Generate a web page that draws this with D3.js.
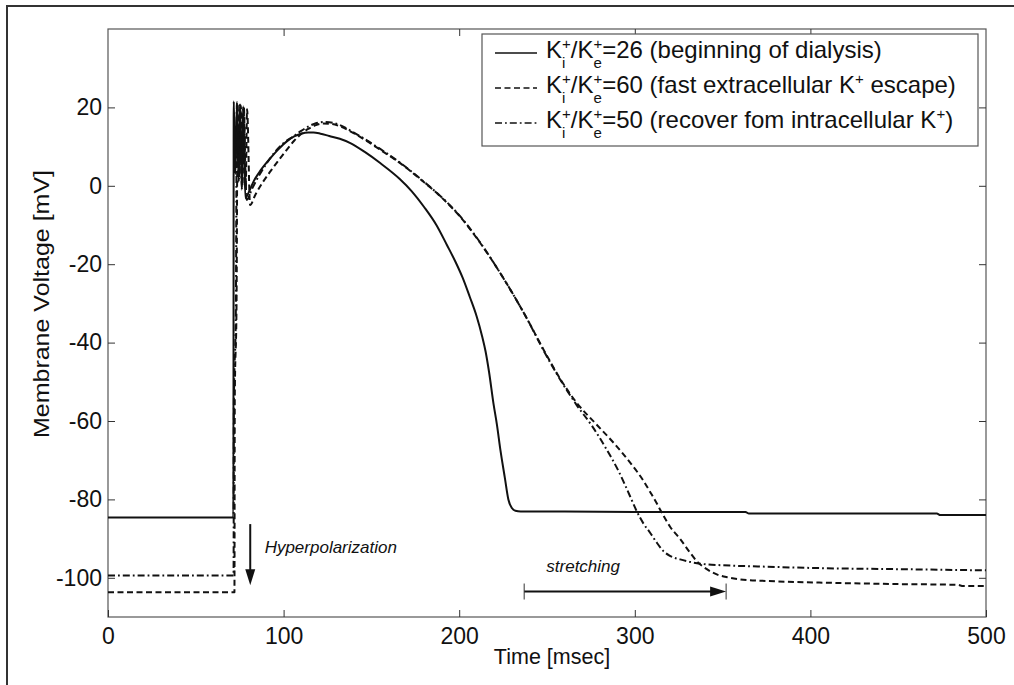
<!DOCTYPE html>
<html><head><meta charset="utf-8">
<script src="https://cdn.jsdelivr.net/npm/d3@7"></script>
<style>body{margin:0;background:#fff}text{font-family:"Liberation Sans",Arial,sans-serif;fill:#111;white-space:pre}</style>
</head><body><svg id="c" width="1014" height="685"></svg>
<script>
// ---- data ----
const xTicks = [0, 100, 200, 300, 400, 500];
const yTicks = [-100, -80, -60, -40, -20, 0, 20];
const xDomain = [0, 500];
const yDomain = [-110, 40];

// K+i/K+e = 26 (solid)
const t26 = [0, 71.4, 71.6, 72.6, 73.4, 74.4, 75.2, 76.2, 77.0, 78.2, 80, 83, 87, 92, 97, 102, 106, 110, 114, 117, 121, 126, 132, 138, 146, 155, 166, 173, 180, 187, 193, 198, 202, 206, 210, 213, 215, 217, 219.5, 221.5, 223.5, 226, 228, 230, 232, 235, 240, 260, 300, 340, 363, 365, 420, 472, 474, 500];
const v26 = [-84.6, -84.6, 21.5, 3, 21.2, 1, 20.8, -1, 20.3, -3.1, -1.8, 1.2, 4.0, 6.8, 9.3, 11.4, 12.6, 13.3, 13.6, 13.6, 13.3, 12.7, 12.0, 10.9, 8.7, 5.8, 1.8, -1.4, -5.4, -10.0, -15.1, -19.5, -23.5, -28.3, -33.4, -38.3, -42.2, -47.5, -55.5, -61, -67.5, -74.5, -80, -82.2, -82.9, -83.1, -83.1, -83.1, -83.2, -83.2, -83.2, -83.6, -83.6, -83.6, -84.0, -84.0];

// K+i/K+e = 60 (dashed)
const t60 = [0, 72.0, 72.2, 73.2, 73.8, 74.8, 75.6, 76.6, 77.4, 78.4, 79.2, 80.9, 84, 88, 93, 98, 102, 106, 110, 114, 118, 122.5, 127, 132, 138, 146, 155, 166, 180, 190, 200, 212, 223, 237, 250, 258, 267, 278, 288, 298, 305, 309, 312, 315.4, 320, 326, 331, 335.4, 341, 347, 353, 360, 375, 413, 450, 484, 487, 500];
const v60 = [-103.7, -103.7, -54, -30, 21, 2, 20.5, 0, 20, -1, 19.5, -4.9, -2.2, 0.8, 4.0, 7.0, 9.3, 11.5, 13.2, 14.5, 15.4, 15.9, 15.8, 15.2, 13.9, 11.8, 9.2, 5.9, 0.9, -3.0, -7.6, -14.6, -22.0, -32.6, -43.4, -49.6, -55.4, -60.8, -65.6, -71, -75.3, -78.3, -80.6, -83.4, -86.9, -90.2, -93.3, -95.8, -97.8, -99.2, -99.9, -100.4, -100.8, -101.3, -101.6, -101.8, -102.1, -102.1];

// K+i/K+e = 50 (dash-dot)
const t50 = [0, 71.5, 71.7, 72.8, 73.4, 74.4, 75.2, 76.2, 77.0, 79.0, 82, 86, 90.3, 95, 100, 105.6, 110, 114, 118, 123.6, 128, 132, 138, 146, 155, 166, 180, 190, 200, 212, 223, 237, 250, 258, 267, 276, 284, 291, 297.3, 301.1, 305, 308.7, 312, 316.3, 320, 325.8, 331, 337.2, 350, 370, 401.7, 450, 500];
const v50 = [-99.4, -99.4, -55, -32, 21.3, 1.5, 20.8, -0.5, 20, -3.6, -0.8, 2.6, 5.7, 8.6, 10.9, 12.6, 14.0, 15.1, 15.9, 16.3, 16.1, 15.5, 14.1, 12.0, 9.4, 6.0, 1.0, -2.9, -7.5, -14.5, -22.0, -32.6, -43.6, -49.8, -56.0, -61.5, -67.3, -73.0, -79.2, -83.0, -86.2, -88.5, -90.7, -93.2, -94.4, -95.3, -95.9, -96.4, -96.8, -97.1, -97.5, -97.8, -98.1];

const seriesRatios = ["26", "60", "50"];
const seriesNotes = [
  [" (beginning of dialysis)"],
  [" (fast extracellular K", "+", " escape)"],
  [" (recover fom intracellular K", "+", ")"]
];
const xLabel = "Time [msec]";
const yLabel = "Membrane Voltage [mV]";

// ---- layout ----
const svg = d3.select("#c");
const L = 108, T = 29, R = 986, B = 617;
const x = d3.scaleLinear().domain(xDomain).range([L, R]);
const y = d3.scaleLinear().domain(yDomain).range([B, T]);

// outer frame
svg.append("path").attr("d", "M7,690V6H1020").attr("fill", "none").attr("stroke", "#333").attr("stroke-width", 2);

// axes box
svg.append("rect").attr("x", L).attr("y", T).attr("width", R - L).attr("height", B - T)
  .attr("fill", "none").attr("stroke", "#555").attr("stroke-width", 1.2);

const fmt = d => String(d);
function styleAxis(g) {
  g.select(".domain").remove();
  g.selectAll(".tick line").attr("stroke", "#333").attr("stroke-width", 1);
  g.selectAll(".tick text").attr("font-size", 23).attr("fill", "#111")
    .attr("font-family", '"Liberation Sans",Arial,sans-serif');
}
svg.append("g").attr("transform", `translate(0,${B})`)
  .call(d3.axisBottom(x).tickValues(xTicks).tickFormat(fmt).tickSizeInner(-7).tickSizeOuter(0).tickPadding(11)).call(styleAxis);
svg.append("g").attr("transform", `translate(0,${T})`)
  .call(d3.axisTop(x).tickValues(xTicks.slice(1, -1)).tickSizeInner(-7).tickSizeOuter(0).tickFormat("")).call(styleAxis);
svg.append("g").attr("transform", `translate(${L},0)`)
  .call(d3.axisLeft(y).tickValues(yTicks).tickFormat(fmt).tickSizeInner(-7).tickSizeOuter(0).tickPadding(6)).call(styleAxis);
svg.append("g").attr("transform", `translate(${R},0)`)
  .call(d3.axisRight(y).tickValues(yTicks).tickSizeInner(-7).tickSizeOuter(0).tickFormat("")).call(styleAxis);

// axis labels
svg.append("text").attr("x", 552).attr("y", 664).attr("text-anchor", "middle").attr("font-size", 21.5).text(xLabel);
svg.append("text").attr("transform", "translate(49,304) rotate(-90)").attr("text-anchor", "middle")
  .attr("font-size", 22).attr("textLength", 268).attr("lengthAdjust", "spacingAndGlyphs").text(yLabel);

// curves
const series = [
  { t: t26, v: v26, dash: null },
  { t: t60, v: v60, dash: "6,3.5" },
  { t: t50, v: v50, dash: "7,3,1.8,3" }
];
const line = d3.line().x(d => x(d[0])).y(d => y(d[1])).curve(d3.curveMonotoneX);
const plot = svg.append("g");
series.forEach(s => {
  const pts = s.t.map((tt, i) => [tt, s.v[i]]);
  plot.append("path").attr("d", line(pts)).attr("fill", "none").attr("stroke", "#111")
    .attr("stroke-width", 2).attr("stroke-linejoin", "round")
    .attr("stroke-dasharray", s.dash);
});

// annotations
const arrowG = svg.append("g");
function arrowHead(xt, yt, dir) {
  const p = dir === "down"
    ? [[xt, yt], [xt - 5, yt - 16], [xt + 5, yt - 16]]
    : [[xt, yt], [xt - 16, yt - 5], [xt - 16, yt + 5]];
  arrowG.append("path").attr("d", "M" + p.map(q => q.join(",")).join("L") + "Z").attr("fill", "#111");
}
const hx = x(81);
arrowG.append("line").attr("x1", hx).attr("x2", hx).attr("y1", y(-86.3)).attr("y2", y(-98)).attr("stroke", "#111").attr("stroke-width", 2);
arrowHead(hx, y(-101.9), "down");
svg.append("text").attr("x", x(89.2)).attr("y", y(-93.6)).attr("font-size", 17).attr("font-style", "italic").text("Hyperpolarization");
const sy = y(-103.5);
arrowG.append("line").attr("x1", x(237)).attr("x2", x(352) - 10).attr("y1", sy).attr("y2", sy).attr("stroke", "#111").attr("stroke-width", 2);
arrowG.append("line").attr("x1", x(237)).attr("x2", x(237)).attr("y1", sy - 8).attr("y2", sy + 8).attr("stroke", "#333").attr("stroke-width", 1);
arrowG.append("line").attr("x1", x(352)).attr("x2", x(352)).attr("y1", sy - 8).attr("y2", sy + 8).attr("stroke", "#333").attr("stroke-width", 1);
arrowHead(x(352), sy, "right");
svg.append("text").attr("x", x(249.6)).attr("y", y(-98.6)).attr("font-size", 17).attr("font-style", "italic").text("stretching");

// legend
const lg = svg.append("g");
lg.append("rect").attr("x", 482).attr("y", 34).attr("width", 496).attr("height", 112)
  .attr("fill", "#fff").attr("stroke", "#555").attr("stroke-width", 1.2);
series.forEach((s, i) => {
  const by = 58 + i * 35;
  lg.append("line").attr("x1", 495).attr("x2", 537).attr("y1", by - 5).attr("y2", by - 5)
    .attr("stroke", "#111").attr("stroke-width", 1.6).attr("stroke-dasharray", s.dash);
  let cx = 546;
  const put = (txt, size, dy) => {
    const el = lg.append("text").attr("x", cx).attr("y", by + dy).attr("font-size", size).text(txt);
    return el.node().getComputedTextLength();
  };
  cx += put("K", 24, 0);
  cx += Math.max(put("+", 15, -9), put("i", 15, 10));
  cx += put("/K", 24, 0);
  cx += Math.max(put("+", 15, -9), put("e", 15, 10));
  cx += put("=" + seriesRatios[i], 24, 0);
  seriesNotes[i].forEach(part => {
    if (part === "+") cx += put("+", 15, -9);
    else cx += put(part, 24, 0);
  });
});
</script>
</body></html>
